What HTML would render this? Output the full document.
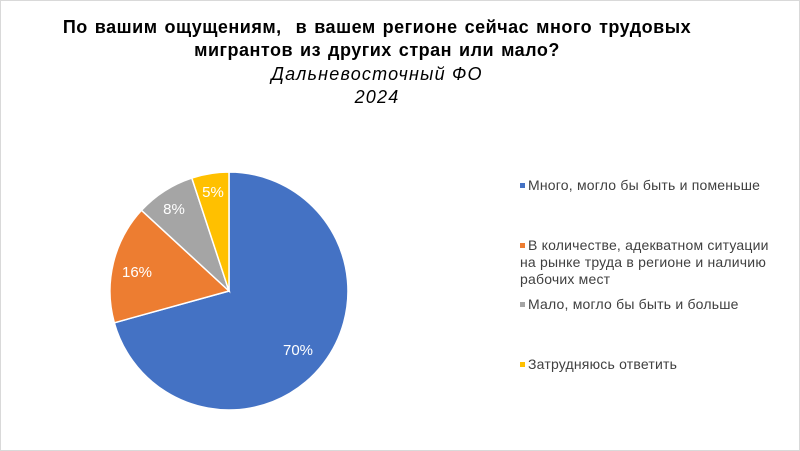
<!DOCTYPE html>
<html><head><meta charset="utf-8"><style>
body{margin:0;background:#fff;}
.wrap{position:relative;width:798px;height:449px;border:1px solid #d9d9d9;overflow:hidden;font-family:"Liberation Sans",sans-serif;}
.t{position:absolute;left:0;width:752px;text-align:center;font-size:18px;color:#000;white-space:nowrap;}
.b{font-weight:bold;letter-spacing:0.5px;word-spacing:1.5px;}
.i{font-style:italic;font-size:18px;letter-spacing:1.2px;}
.lg{position:absolute;left:519px;font-size:14px;color:#404040;line-height:17px;letter-spacing:0.2px;white-space:nowrap;}
.lg span{display:inline-block;width:5px;height:5px;margin-right:3px;vertical-align:2px;}
</style></head><body><div class="wrap">
<div class="t b" style="top:16px">По вашим ощущениям,&nbsp; в вашем регионе сейчас много трудовых</div>
<div class="t b" style="top:39px">мигрантов из других стран или мало?</div>
<div class="t i" style="top:63px">Дальневосточный ФО</div>
<div class="t i" style="top:86px">2024</div>
<svg width="800" height="451" style="position:absolute;left:-1px;top:-1px">
<g stroke="#fff" stroke-width="1.5">
<path d="M229,291 L229,172 A119,119 0 1 1 114.3,322.8 Z" fill="#4472C4"/>
<path d="M229,291 L114.3,322.8 A119,119 0 0 1 141.5,210.3 Z" fill="#ED7D31"/>
<path d="M229,291 L141.5,210.3 A119,119 0 0 1 191.8,178 Z" fill="#A5A5A5"/>
<path d="M229,291 L191.8,178 A119,119 0 0 1 229,172 Z" fill="#FFC000"/>
</g>
<g font-family="Liberation Sans,sans-serif" font-size="15" fill="#fff" text-anchor="middle">
<text x="298" y="355">70%</text>
<text x="137" y="277">16%</text>
<text x="174" y="214">8%</text>
<text x="213" y="197">5%</text>
</g>
</svg>
<div class="lg" style="top:176px"><span style="background:#4472C4"></span>Много, могло бы быть и поменьше</div>
<div class="lg" style="top:236px"><span style="background:#ED7D31"></span>В количестве, адекватном ситуации<br>на рынке труда в регионе и наличию<br>рабочих мест</div>
<div class="lg" style="top:295px"><span style="background:#A5A5A5"></span>Мало, могло бы быть и больше</div>
<div class="lg" style="top:355px"><span style="background:#FFC000"></span>Затрудняюсь ответить</div>
</div></body></html>
